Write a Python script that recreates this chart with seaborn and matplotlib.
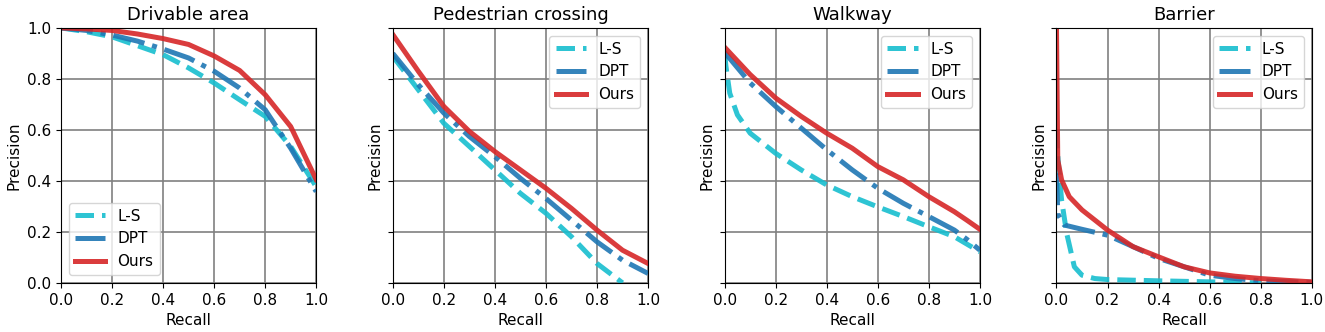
import numpy as np
import pandas as pd
import seaborn as sns
import matplotlib.pyplot as plt

titles = ['Drivable area', 'Pedestrian crossing', 'Walkway', 'Barrier']
methods = ['L-S', 'DPT', 'Ours']

# recall / precision, one list per method and panel
drivable_x = [0.0, 0.1, 0.2, 0.3, 0.4, 0.5, 0.6, 0.7, 0.8, 0.9, 1.0]
drivable_ls = [1.0, 0.985, 0.965, 0.93, 0.895, 0.843, 0.784, 0.718, 0.653, 0.535, 0.377]
drivable_dpt = [1.0, 0.99, 0.972, 0.948, 0.917, 0.882, 0.83, 0.764, 0.679, 0.528, 0.358]
drivable_ours = [1.0, 0.996, 0.99, 0.976, 0.958, 0.935, 0.89, 0.833, 0.738, 0.613, 0.405]

ped_x = [0.0, 0.1, 0.2, 0.3, 0.4, 0.5, 0.6, 0.7, 0.8, 0.9, 1.0]
ped_ls_x = [0.0, 0.1, 0.2, 0.3, 0.4, 0.5, 0.6, 0.7, 0.8, 0.9]
ped_ls = [0.889, 0.757, 0.626, 0.535, 0.443, 0.351, 0.273, 0.181, 0.076, 0.0]
ped_dpt = [0.90, 0.777, 0.666, 0.574, 0.495, 0.41, 0.331, 0.246, 0.161, 0.089, 0.037]
ped_ours = [0.974, 0.83, 0.692, 0.594, 0.515, 0.443, 0.371, 0.292, 0.207, 0.128, 0.076]

walk_x = [0.0, 0.1, 0.2, 0.3, 0.4, 0.5, 0.6, 0.7, 0.8, 0.9, 0.95, 1.0]
walk_ls_x = [0.0, 0.005, 0.02, 0.05, 0.1, 0.2, 0.3, 0.4, 0.5, 0.6, 0.7, 0.8, 0.9, 1.0]
walk_ls = [0.90, 0.85, 0.744, 0.659, 0.587, 0.508, 0.443, 0.384, 0.338, 0.298, 0.26, 0.22, 0.181, 0.122]
walk_dpt = [0.904, 0.784, 0.692, 0.607, 0.522, 0.443, 0.371, 0.312, 0.26, 0.207, 0.17, 0.128]
walk_ours = [0.924, 0.817, 0.725, 0.653, 0.587, 0.528, 0.456, 0.404, 0.338, 0.279, 0.245, 0.21]

bar_ls_x = [0.0, 0.005, 0.02, 0.04, 0.07, 0.1, 0.15, 0.2, 0.4, 0.6, 0.8]
bar_ls = [0.6, 0.5, 0.325, 0.194, 0.063, 0.03, 0.017, 0.013, 0.008, 0.004, 0.0]
bar_dpt_x = [0.0, 0.005, 0.03, 0.1, 0.2, 0.3, 0.4, 0.5, 0.6, 0.7, 0.8, 1.0]
bar_dpt = [0.43, 0.27, 0.227, 0.21, 0.187, 0.142, 0.096, 0.063, 0.03, 0.017, 0.008, 0.002]
bar_ours_x = [0.0, 0.005, 0.02, 0.05, 0.1, 0.2, 0.3, 0.4, 0.5, 0.6, 0.7, 0.8, 0.9, 1.0]
bar_ours = [1.0, 0.482, 0.404, 0.338, 0.286, 0.207, 0.142, 0.102, 0.063, 0.039, 0.026, 0.017, 0.01, 0.004]

panels = [
    [(drivable_x, drivable_ls), (drivable_x, drivable_dpt), (drivable_x, drivable_ours)],
    [(ped_ls_x, ped_ls), (ped_x, ped_dpt), (ped_x, ped_ours)],
    [(walk_ls_x, walk_ls), (walk_x, walk_dpt), (walk_x, walk_ours)],
    [(bar_ls_x, bar_ls), (bar_dpt_x, bar_dpt), (bar_ours_x, bar_ours)],
]

colors = {'L-S': '#17becf', 'DPT': '#1f77b4', 'Ours': '#d62728'}
styles = {'L-S': '--', 'DPT': '-.', 'Ours': '-'}

fig, axes = plt.subplots(1, 4, figsize=(13.25, 3.32), dpi=100)
fig.subplots_adjust(left=0.046, right=0.990, top=0.916, bottom=0.148, wspace=0.30)

for i, ax in enumerate(axes):
    for m, (xs, ys) in zip(methods, panels[i]):
        df = pd.DataFrame({'Recall': xs, 'Precision': ys})
        sns.lineplot(data=df, x='Recall', y='Precision', ax=ax, color=colors[m],
                     linestyle=styles[m], linewidth=3.6, alpha=0.9, label=m,
                     estimator=None, sort=False)
    ax.set_xlim(0, 1)
    ax.set_ylim(0, 1)
    ax.set_xticks(np.arange(0, 1.01, 0.2))
    ax.set_yticks(np.arange(0, 1.01, 0.2))
    ax.grid(True, color='gray', linewidth=1.2)
    ax.set_axisbelow(True)
    ax.set_title(titles[i], fontsize=13)
    ax.set_xlabel('Recall', fontsize=11)
    ax.set_ylabel('Precision', fontsize=11)
    ax.tick_params(labelsize=11)
    if i > 0:
        ax.tick_params(axis='y', labelleft=False)
    loc = 'lower left' if i == 0 else 'upper right'
    ax.legend(loc=loc, fontsize=11)

fig.savefig('out.png', dpi=100)
